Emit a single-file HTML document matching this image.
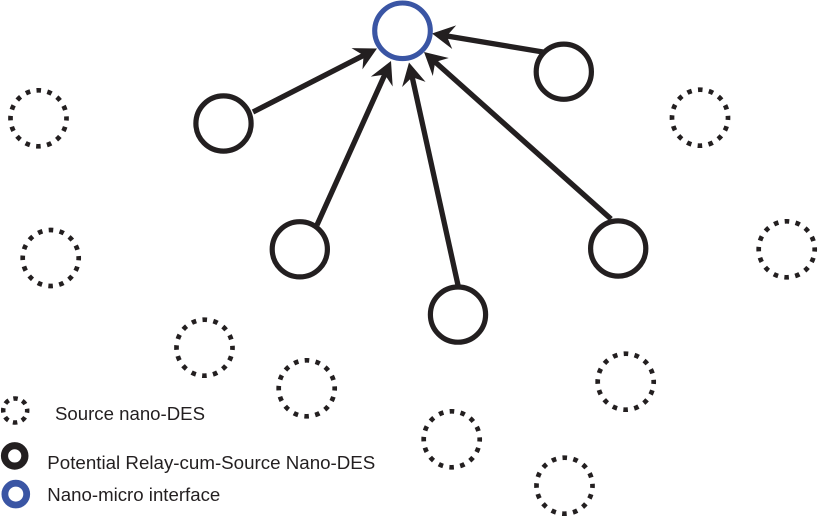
<!DOCTYPE html>
<html>
<head>
<meta charset="utf-8">
<style>
  html, body { margin: 0; padding: 0; background: #fff; }
  svg { display: block; }
  text { font-family: "Liberation Sans", Arial, sans-serif; fill: #231f20; }
</style>
</head>
<body>
<svg width="820" height="518" viewBox="0 0 820 518" xmlns="http://www.w3.org/2000/svg">
  <!-- dotted source nodes -->
  <g fill="none" stroke="#231f20" stroke-width="4.7" stroke-dasharray="4.6 6.4" stroke-dashoffset="2.3">
    <circle cx="38.5" cy="118.3" r="28"/>
    <circle cx="50.7" cy="258" r="28"/>
    <circle cx="204.5" cy="347.7" r="28"/>
    <circle cx="306.7" cy="388.3" r="28"/>
    <circle cx="451.7" cy="439.3" r="28"/>
    <circle cx="564.5" cy="485.7" r="28"/>
    <circle cx="625.7" cy="381.7" r="28"/>
    <circle cx="700" cy="117.7" r="28"/>
    <circle cx="786.7" cy="249.3" r="28"/>
  </g>

  <!-- connectors -->
  <g stroke="#231f20" stroke-width="5.3" fill="none">
    <line x1="253" y1="112" x2="364.1" y2="55.1"/>
    <line x1="317" y1="225" x2="385.0" y2="74.2"/>
    <line x1="458.3" y1="286.5" x2="412.1" y2="76.7"/>
    <line x1="611" y1="219" x2="434.8" y2="61.7"/>
    <line x1="543" y1="52" x2="446.3" y2="35.9"/>
  </g>
  <g fill="#231f20">
    <path d="M0,0 L-22.5,-12 L-15,0 L-22.5,12 Z" transform="translate(377,48.5) rotate(-27.12)"/>
    <path d="M0,0 L-22.5,-12 L-15,0 L-22.5,12 Z" transform="translate(391,61) rotate(-65.71)"/>
    <path d="M0,0 L-22.5,-12 L-15,0 L-22.5,12 Z" transform="translate(409,62.5) rotate(-102.41)"/>
    <path d="M0,0 L-22.5,-12 L-15,0 L-22.5,12 Z" transform="translate(424,52) rotate(-138.23)"/>
    <path d="M0,0 L-22.5,-12 L-15,0 L-22.5,12 Z" transform="translate(432,33.5) rotate(-170.54)"/>
  </g>

  <!-- relay nodes -->
  <g fill="#fff" stroke="#231f20" stroke-width="5.2">
    <circle cx="223.5" cy="123.5" r="27.6"/>
    <circle cx="563.8" cy="71.7" r="27.6"/>
    <circle cx="299.8" cy="249.3" r="27.6"/>
    <circle cx="458" cy="314.6" r="27.6"/>
    <circle cx="618.2" cy="248.5" r="27.6"/>
  </g>

  <!-- interface -->
  <circle cx="402.5" cy="30.8" r="27.8" fill="#fff" stroke="#3a55a4" stroke-width="5.1"/>

  <!-- legend -->
  <circle cx="15.2" cy="410.5" r="12" fill="none" stroke="#231f20" stroke-width="4.5" stroke-dasharray="4.5 4.92" stroke-dashoffset="2.25"/>
  <circle cx="14.7" cy="455.9" r="10.2" fill="none" stroke="#231f20" stroke-width="7.2"/>
  <circle cx="15.8" cy="494.1" r="10.9" fill="none" stroke="#3a55a4" stroke-width="6.8"/>

  <text x="55" y="420" font-size="18.6" textLength="150" lengthAdjust="spacingAndGlyphs">Source nano-DES</text>
  <text x="47.3" y="469" font-size="18.6" textLength="328" lengthAdjust="spacingAndGlyphs">Potential Relay-cum-Source Nano-DES</text>
  <text x="47.3" y="501" font-size="18.6" textLength="173" lengthAdjust="spacingAndGlyphs">Nano-micro interface</text>
</svg>
</body>
</html>
